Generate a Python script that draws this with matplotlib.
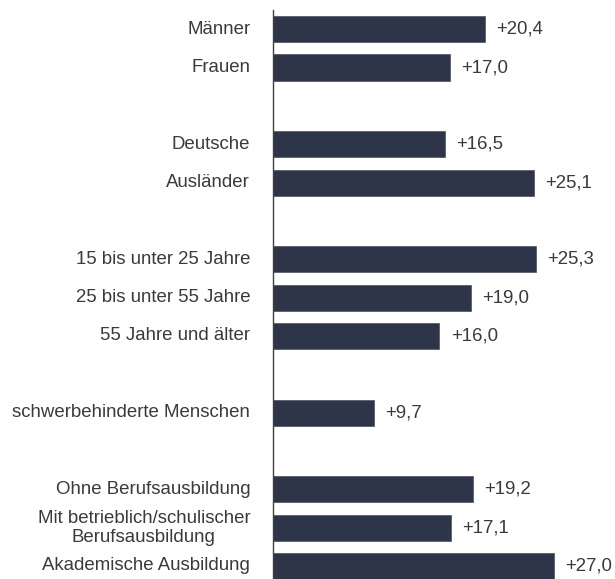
import matplotlib
matplotlib.use("Agg")
import matplotlib.pyplot as plt

categories = ["Männer", "Frauen", "", "Deutsche", "Ausländer", "",
              "15 bis unter 25 Jahre", "25 bis unter 55 Jahre", "55 Jahre und älter", "",
              "schwerbehinderte Menschen", "",
              "Ohne Berufsausbildung", "Mit betrieblich/schulischer\nBerufsausbildung",
              "Akademische Ausbildung"]
values = [20.4, 17.0, None, 16.5, 25.1, None, 25.3, 19.0, 16.0, None, 9.7, None,
          19.2, 17.1, 27.0]

plt.rcParams['font.family'] = ['Liberation Sans', 'DejaVu Sans']
bar_color = "#2f3549"
text_color = "#3a3a3a"
fs = 13.4

fig = plt.figure(figsize=(6.15, 5.79), dpi=100)
ax = fig.add_axes([273/615, 0, 1 - 273/615, (579-10)/579])

for i, (cat, v) in enumerate(zip(categories, values)):
    if v is None:
        continue
    ax.barh(i, v, height=0.68, color=bar_color, edgecolor="#4a5066", linewidth=0.5)
    ax.text(v + 1.1, i, f"+{v:.1f}".replace(".", ","), va="center", ha="left",
            fontsize=fs, color=text_color)
    ax.text(-2.2, i, cat, va="center", ha="right", multialignment="center",
            fontsize=fs, color=text_color, linespacing=1.15)

ax.set_xlim(0, 32.9)
ax.set_ylim(14.34, -0.5)
ax.set_xticks([])
ax.set_yticks([])
for s in ["top", "right", "bottom"]:
    ax.spines[s].set_visible(False)
ax.spines["left"].set_color("#404040")
ax.spines["left"].set_linewidth(1.0)

fig.savefig("out.png", dpi=100)
